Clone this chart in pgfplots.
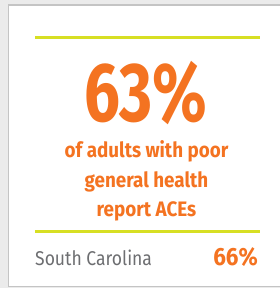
\documentclass[border=0pt]{standalone}
\usepackage{pgfplots}
\pgfplotsset{compat=1.18}
\usepackage{fontspec}
\setmainfont{Fira Sans}
\newfontfamily\condbig[FakeStretch=0.76]{Fira Sans}
\newfontfamily\cond[FakeStretch=0.9]{Fira Sans}
\newfontfamily\condreg[FakeStretch=0.88]{Fira Sans}
\definecolor{aceorange}{HTML}{F47321}
\definecolor{acelime}{HTML}{D7DF23}
\definecolor{acegray}{HTML}{6D6E71}
\definecolor{bggray}{HTML}{EBEBEB}
\definecolor{bordergray}{HTML}{C4C4C4}
\begin{document}
\begin{tikzpicture}
\useasboundingbox (0,0) rectangle (280bp,288bp);
\begin{axis}[
  width=280bp, height=288bp, scale only axis,
  xmin=0, xmax=280, ymin=0, ymax=288, y dir=reverse,
  hide axis, clip=false,
]
\fill[bggray] (axis cs:-2,-2) rectangle (axis cs:290,290);
\filldraw[fill=white, draw=bordergray, line width=1.2bp] (axis cs:8.5,5) rectangle (axis cs:290,286.6);
\addplot[acelime, line width=2.8bp] coordinates {(35,37.5) (260,37.5)};
\addplot[acelime, line width=2.8bp] coordinates {(35,231.7) (260,231.7)};
\node[anchor=base, inner sep=0, text=aceorange, font=\condbig\bfseries\fontsize{84}{84}\selectfont] at (axis cs:145.5,121.5) {63\%};
\node[anchor=base, inner sep=0, text=aceorange, font=\cond\bfseries\fontsize{21}{30}\selectfont] at (axis cs:146.5,157) {of adults with poor};
\node[anchor=base, inner sep=0, text=aceorange, font=\cond\bfseries\fontsize{21}{30}\selectfont] at (axis cs:146.5,187) {general health};
\node[anchor=base, inner sep=0, text=aceorange, font=\cond\bfseries\fontsize{21}{30}\selectfont] at (axis cs:146.5,216.7) {report ACEs};
\node[anchor=base west, inner sep=0, text=acegray, font=\condreg\fontsize{20}{24}\selectfont] at (axis cs:35,265.7) {South Carolina};
\node[anchor=base east, inner sep=0, text=aceorange, font=\cond\bfseries\fontsize{25}{30}\selectfont] at (axis cs:258,265.7) {66\%};
\end{axis}
\end{tikzpicture}
\end{document}
